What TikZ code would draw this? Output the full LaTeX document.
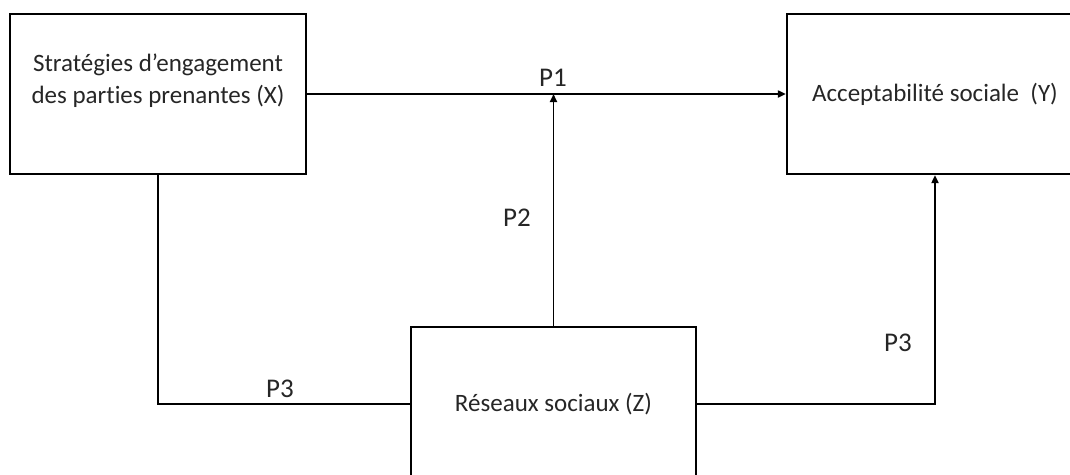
\documentclass[tikz,border=0pt]{standalone}
\usepackage{fontspec}
\setmainfont{Carlito}[Ligatures=NoCommon]
\usetikzlibrary{arrows.meta}
\begin{document}
\begin{tikzpicture}[x=1pt,y=-1pt,
    txt/.style={text=black!85,font=\fontsize{25}{32}\selectfont},
    box/.style={draw=black,line width=2.2pt,minimum width=296pt,minimum height=160pt,inner sep=0pt,txt},
    link/.style={draw=black,line width=1.8pt},
    tip/.style={-{Triangle[length=8pt,width=7pt]}},
    plab/.style={inner sep=0pt,text=black!85,font=\fontsize{27}{30}\selectfont}]
    \useasboundingbox (0,0) rectangle (1070,474);
    % the three variables
    \node [box,label={[txt,yshift=13pt,align=center]center:Stratégies d’engagement\\des parties prenantes (X)}] (X) at (158,94) {};
    \node [box] (Y) at (935,94) {Acceptabilité sociale\ \ (Y)};
    \node [box,minimum width=285pt,minimum height=154pt] (Z) at (553.5,404) {Réseaux sociaux (Z)};
    \coordinate (M) at (Z.north |- X.east);
    % paths between them
    \draw [link,tip] (X.east) -- (Y.west);
    \draw [link,tip] (Z.north) -- (M);
    \draw [link] (X.south) |- (Z.west);
    \draw [link,tip] (Z.east) -| (Y.south);
    % hypotheses
    \node [plab] (p1) at (553,78) {P1};
    \node [plab] (p2) at (517,218) {P2};
    \node [plab] (p3a) at (280,389) {P3};
    \node [plab] (p3b) at (898,343) {P3};
\end{tikzpicture}
\end{document}
